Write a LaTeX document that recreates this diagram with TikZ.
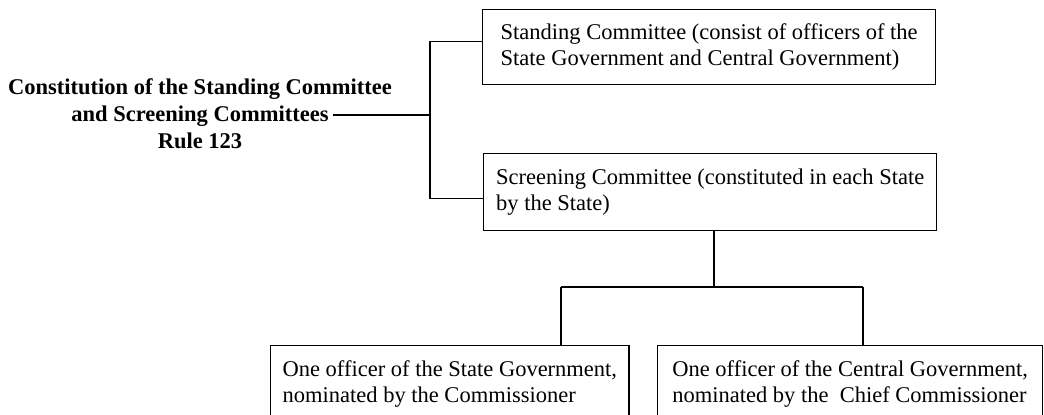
\documentclass[tikz,border=0pt]{standalone}
\usepackage{fontspec}
\setmainfont{Liberation Serif}
\usetikzlibrary{positioning}
\tikzstyle{box}  = [draw, line width=0.9pt, anchor=north west, align=left, inner xsep=0.3cm, font=\fontsize{16}{18.5}\selectfont]
\tikzstyle{wire} = [line width=0.9pt]

\begin{document}
\begin{tikzpicture}[
        x=0.025cm,
        y=-0.025cm,
        title/.style={
            align=center,
            font=\fontsize{16}{19.2}\selectfont\bfseries
        }
    ]
        \useasboundingbox (0,0) rectangle (1044,414);
        \clip (0,0) rectangle (1044,414);

        \node[title] (rule) at (200,114) {Constitution of the Standing Committee\\and Screening Committees\\Rule 123};

        \node[box, minimum width=11.325cm, minimum height=1.875cm] (standing) at (482,9) {Standing Committee (consist of officers of the\\State Government and Central Government)};
        \node[box, minimum width=11.325cm, minimum height=1.925cm] (screening) at (483,153) {Screening Committee (constituted in each State\\by the State)};

        \node[box, minimum width=8.95cm, minimum height=1.9cm] (stateoff) at (270,345) {One officer of the State Government,\\nominated by the Commissioner};
        \node[box, minimum width=9.625cm, minimum height=1.9cm] (centraloff) at (657,345) {One officer of the Central Government,\\nominated by the~ Chief Commissioner};

        \coordinate (tl) at (333,115);
        \coordinate (brace) at (430,115);
        \coordinate (fork) at (714,287);
        \coordinate (forkl) at (561,287);
        \coordinate (forkr) at (863,287);

        \draw[wire] (tl) -- (brace);
        \draw[wire] ([yshift=0.14cm]standing.west) -| (brace) |- ([yshift=-0.16cm]screening.west);

        \draw[wire] (screening.south -| fork) -- (fork);
        \draw[wire] (forkl) -- (forkr);
        \draw[wire] (forkl) -- (forkl |- stateoff.north);
        \draw[wire] (forkr) -- (forkr |- centraloff.north);

    \end{tikzpicture}
\end{document}
